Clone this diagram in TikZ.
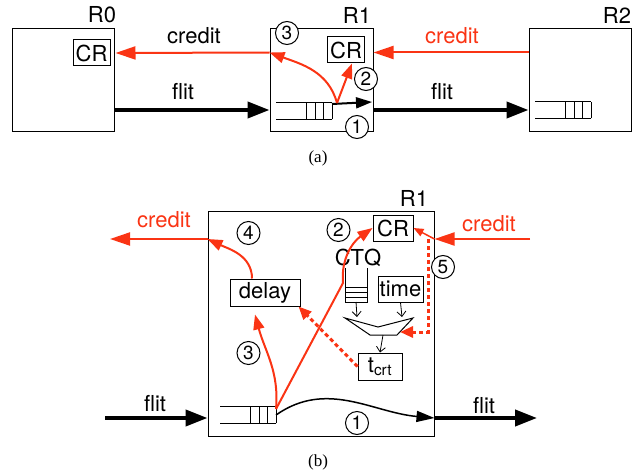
\documentclass[tikz,border=0pt]{standalone}
\usepackage{fontspec}
\setmainfont{TeX Gyre Heros}
\newfontfamily\capfont{Liberation Serif}
\usetikzlibrary{positioning, arrows.meta}
\definecolor{creditred}{RGB}{250,52,20}

\tikzset{
  fifo/.pic={
    \draw[line width=1pt] (-56,-8.3) -- (0,-8.3) (-56,8.3) -- (0,8.3);
    \foreach \c in {0,8.5,17,26}
      \draw[line width=1pt] (-\c,-8.3) -- (-\c,8.3);
  }
}

\begin{document}
\begin{tikzpicture}[x=1pt, y=1pt, font=\fontsize{22}{24}\selectfont]
    % Stili
    \tikzstyle{router} = [draw, line width=1pt, inner sep=0pt]
    \tikzstyle{block} = [draw, line width=1pt, inner sep=0pt]
    \tikzstyle{num} = [draw, circle, fill=white, line width=1pt, inner sep=0pt, minimum size=23pt, font=\fontsize{19}{19}\selectfont]
    \tikzstyle{flitarrow} = [line width=4pt, -{Triangle[length=22pt, width=16pt]}]
    \tikzstyle{creditarrow} = [creditred, line width=2pt, -{Triangle[length=20pt, width=13pt]}]
    \tikzstyle{redarc} = [creditred, line width=2pt, -{Triangle[length=15pt, width=11pt]}]
    \tikzstyle{reddots} = [creditred, line width=3pt, dash pattern=on 4pt off 3pt, -{Triangle[length=13pt, width=11pt]}]
    \tikzstyle{feed} = [line width=0.8pt, -{Straight Barb[length=5pt, width=9pt]}]

    \useasboundingbox (0,0) rectangle (639,475);

    % Nodi (a)
    \node[router, minimum width=102pt, minimum height=102pt] (r0) at (63,395) {};
    \node[router, minimum width=103pt, minimum height=102pt] (r1) at (321.5,395) {};
    \node[router, minimum width=102pt, minimum height=102pt] (r2) at (580,395) {};
    \node (r0name) at (102,460) {R0};
    \node (r1name) at (357,460) {R1};
    \node (r2name) at (617,460) {R2};
    \node[block, minimum width=37pt, minimum height=26pt] (cr0) at (91.5,422) {CR};
    \node[block, minimum width=37pt, minimum height=26pt] (cr1) at (346,425) {CR};
    \pic at (332,364) {fifo};
    \pic at (591,365) {fifo};
    \coordinate (q1end) at (332,371);
    \coordinate (q1tap) at (337,372);
    \coordinate (r1tip) at (372,373);
    \node (creditl) at (194,439) {credit};
    \node[creditred] (creditr) at (452,439) {credit};
    \node (flitl) at (183,383) {flit};
    \node (flitr) at (442,383) {flit};

    % Collegamenti (a)
    \draw[creditarrow] ([yshift=-24pt]r1.north west) -- ([xshift=5pt]cr0.east);
    \draw[creditarrow] ([yshift=-24pt]r2.north west) -- ([yshift=-24pt]r1.north east);
    \draw[flitarrow] ([yshift=-30pt]r0.east) -- ([yshift=-30pt]r1.west);
    \draw[flitarrow] ([yshift=-30pt]r1.east) -- ([yshift=-30pt]r2.west);
    \draw[line width=2pt, -{Triangle[length=16pt, width=11pt]}] (q1end) -- (r1tip);
    \draw[redarc] (q1tap) -- ([xshift=6pt]cr1.south);
    \draw[redarc] (q1tap) to[out=105, in=-20] ([yshift=-24pt]r1.north west);

    \node[num] (n3a) at (287,442) {3};
    \node[num] (n2a) at (366,396) {2};
    \node[num] (n1a) at (357,348) {1};
    \node[font=\capfont\fontsize{17}{17}\selectfont] (capa) at (318,317) {(a)};

    % Nodi (b)
    \node[router, minimum width=226pt, minimum height=225pt] (r1b) at (321,151.5) {};
    \node (r1bname) at (414,277) {R1};
    \node[block, minimum width=40pt, minimum height=26pt] (crb) at (393,247) {CR};
    \node[block, minimum width=70pt, minimum height=27pt] (delay) at (265,182.5) {delay};
    \node[block, minimum width=45pt, minimum height=26pt] (time) at (400.5,186) {time};
    \node[block, minimum width=44pt, minimum height=27pt] (tcrt) at (380,108.5) {t\textsubscript{crt}};
    \node (ctqname) at (358,217.5) {CTQ};
    \node[creditred] (creditbl) at (164,255) {credit};
    \node[creditred] (creditbr) at (489,251) {credit};
    \node (flitbl) at (155,71) {flit};
    \node (flitbr) at (484,69) {flit};
    \pic at (276,60) {fifo};
    \coordinate (qbend) at (276,60);
    \coordinate (qbtap) at (276,66);
    \coordinate (flitin) at (105,57);
    \coordinate (flitout) at (537,57);
    \coordinate (creditout) at (110,236);
    \coordinate (creditin) at (530,236);
    \coordinate (ctqtap) at (343,192);
    \coordinate (ctq) at (356,173);
    \coordinate (muxa) at (357,158);
    \coordinate (muxb) at (402,158);
    \coordinate (muxout) at (383,140);
    \coordinate (muxin) at (400,143);
    \coordinate (fbtop) at (428,236);

    % CTQ e mux
    \draw[line width=1pt] (345,207) -- (345,173) -- (367,173) -- (367,207);
    \foreach \b in {178,183,188}
      \draw[line width=1pt] (345,\b) -- (367,\b);
    \draw[line width=1pt] (345,157) -- (378,148) -- (413,157) -- (397,140) -- (370,140) -- cycle;

    % Collegamenti (b)
    \draw[flitarrow] (flitin) -- (flitin -| r1b.west);
    \draw[flitarrow] (flitin -| r1b.east) -- (flitout);
    \draw[line width=1.5pt, -{Triangle[length=18pt, width=11pt]}] (qbend) to[out=35, in=175] (flitin -| r1b.east);
    \draw[redarc] (qbtap) to[out=85, in=-75] ([xshift=-10pt, yshift=-8pt]delay.south);
    \draw[redarc] ([xshift=-13pt]delay.north) to[out=90, in=-25] (creditout -| r1b.west);
    \draw[creditarrow] (creditout -| r1b.west) -- (creditout);
    \draw[creditarrow] (creditin) -- (creditin -| r1b.east);
    \draw[creditred, line width=1.5pt, -{Triangle[length=10pt, width=8pt]}] (creditin -| r1b.east) -- (crb.east);
    \draw[redarc] (qbtap) -- (ctqtap) to[out=95, in=-145] (crb.west);
    \draw[reddots] (tcrt.west) -- ([xshift=-2pt]delay.south east);
    \draw[reddots] (fbtop) |- (muxin);
    \draw[feed] (ctq) -- (muxa);
    \draw[feed] (time.south) -- (muxb);
    \draw[feed] (muxout) -- (tcrt.north);

    \node[num] (n1b) at (357,52) {1};
    \node[num] (n2b) at (338.5,245) {2};
    \node[num] (n3b) at (248.5,122) {3};
    \node[num] (n4b) at (248.5,242) {4};
    \node[num] (n5b) at (443,208) {5};
    \node[font=\capfont\fontsize{17}{17}\selectfont] (capb) at (318,13) {(b)};
\end{tikzpicture}
\end{document}
